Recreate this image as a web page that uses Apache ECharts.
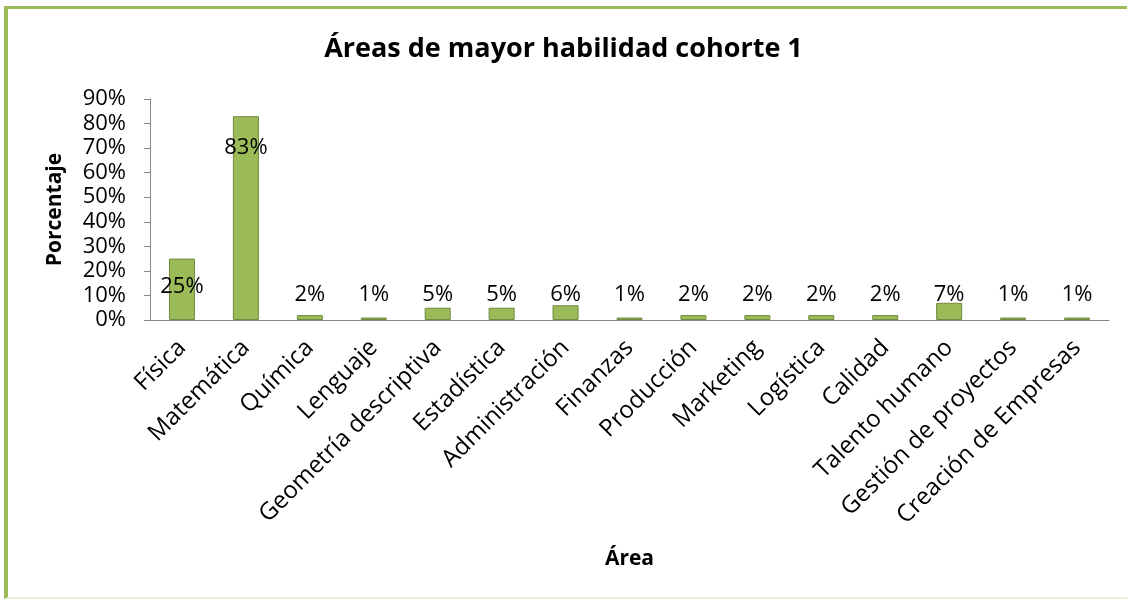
<!DOCTYPE html>
<html>
<head>
<meta charset="utf-8">
<script src="https://cdn.jsdelivr.net/npm/echarts@6/dist/echarts.min.js"></script>
<style>
  html, body { margin: 0; padding: 0; background: #fff; }
  .frame {
    position: absolute; left: 4px; top: 6px; width: 1123px; height: 593px;
    border-left: 4px solid #9bbb59; border-top: 3px solid #9bbb59;
    border-bottom: 2px solid #eaf1dd; box-sizing: border-box;
  }
  #chart { position: absolute; left: 0; top: 0; width: 1127px; height: 601px; }
</style>
</head>
<body>
<div class="frame"></div>
<div id="chart"></div>
<script>
// categories and percentages
const areas = ['Física', 'Matemática', 'Química', 'Lenguaje', 'Geometría descriptiva', 'Estadística',
  'Administración', 'Finanzas', 'Producción', 'Marketing', 'Logística', 'Calidad',
  'Talento humano', 'Gestión de proyectos', 'Creación de Empresas']
const porcentajes = [25, 83, 2, 1, 5, 5, 6, 1, 2, 2, 2, 2, 7, 1, 1]
const yTicks = [0, 10, 20, 30, 40, 50, 60, 70, 80, 90]

const font = '"Open Sans", sans-serif'
const chart = echarts.init(document.getElementById('chart'))

// labels: tall bars get the label inside, small ones sit on a common line above the axis
const barData = porcentajes.map(v => {
  let label
  if (v > 50) {
    label = { position: 'insideTop', distance: 21 }
  } else if (v > 10) {
    label = { position: 'insideBottom', distance: 22 }
  } else {
    label = { position: 'insideBottom', distance: 14 }
  }
  return { value: v, label: label }
})

chart.setOption({
  animation: false,
  textStyle: { fontFamily: font },
  title: {
    text: 'Áreas de mayor habilidad cohorte 1',
    left: 'center',
    top: 31,
    textStyle: { fontFamily: font, fontSize: 27, fontWeight: 'bold', color: '#000' }
  },
  grid: { left: 150, right: 18, top: 99, bottom: 281 },
  xAxis: {
    type: 'category',
    data: areas,
    name: 'Área',
    nameLocation: 'middle',
    nameGap: 229,
    nameTextStyle: { fontFamily: font, fontSize: 21, fontWeight: 'bold', color: '#000' },
    axisLine: { lineStyle: { color: '#868686', width: 1 } },
    axisTick: { show: false },
    axisLabel: { rotate: 45, fontSize: 24, color: '#000', margin: 24, interval: 0, fontFamily: font }
  },
  yAxis: {
    type: 'value',
    min: yTicks[0],
    max: yTicks[yTicks.length - 1],
    interval: 10,
    name: 'Porcentaje',
    nameLocation: 'middle',
    nameGap: 84,
    nameRotate: 90,
    nameTextStyle: { fontFamily: font, fontSize: 21, fontWeight: 'bold', color: '#000' },
    axisLine: { show: true, lineStyle: { color: '#868686', width: 1 } },
    axisTick: { show: true, length: 6, lineStyle: { color: '#868686' } },
    splitLine: { show: false },
    axisLabel: { formatter: '{value}%', fontSize: 22, color: '#000', margin: 24, fontFamily: font }
  },
  series: [
    {
      type: 'bar',
      data: barData,
      barWidth: 26,
      itemStyle: { color: '#9bbb59', borderColor: '#71893f', borderWidth: 1 },
      label: {
        show: true,
        formatter: '{c}%',
        fontSize: 22,
        color: '#000',
        fontFamily: font
      }
    }
  ]
})
</script>
</body>
</html>
